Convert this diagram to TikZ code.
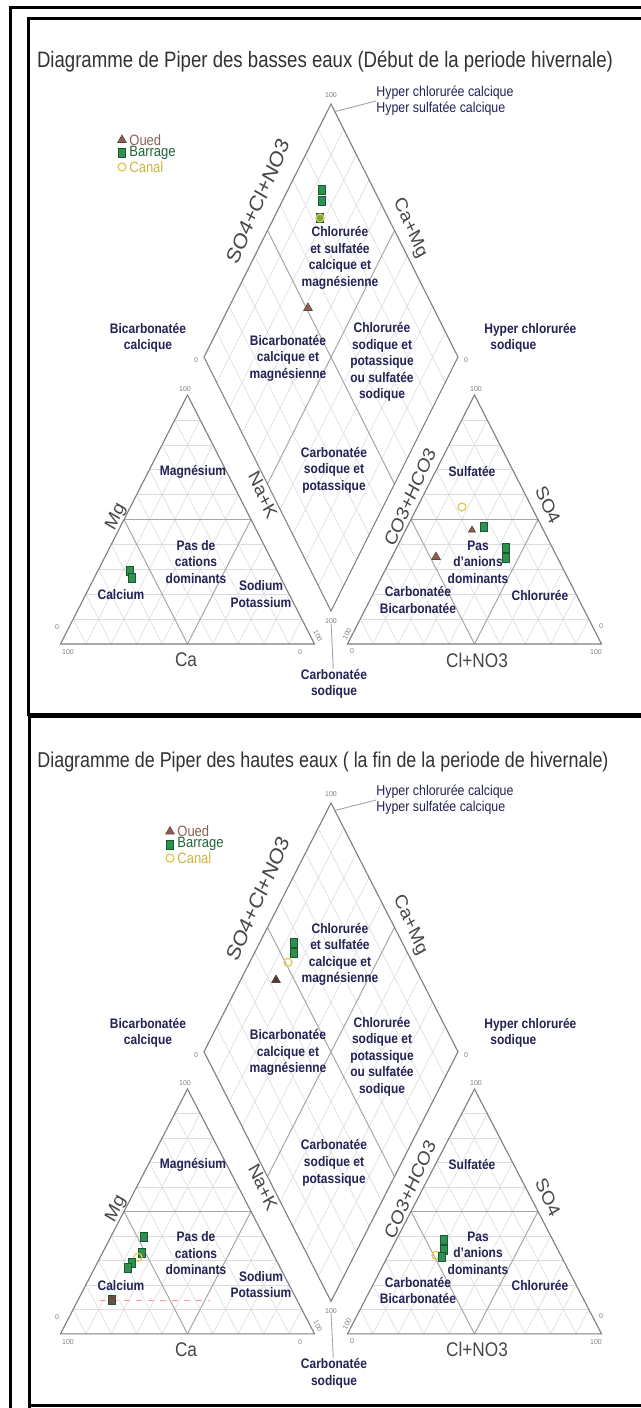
\documentclass[tikz,border=0pt]{standalone}
\usepackage{fontspec}
\setmainfont{Liberation Sans}
\usetikzlibrary{calc,shapes.geometric}

\definecolor{navy}{RGB}{35,35,85}
\definecolor{gridgray}{RGB}{220,220,224}
\definecolor{zonegray}{RGB}{165,165,170}
\definecolor{framegray}{RGB}{125,125,130}
\definecolor{axisgray}{RGB}{70,70,75}
\definecolor{titlegray}{RGB}{50,50,50}
\definecolor{ouedcol}{RGB}{140,95,85}
\definecolor{barragecol}{RGB}{45,145,80}
\definecolor{canalcol}{RGB}{225,200,70}

\tikzset{
  gridline/.style={draw=gridgray, line width=0.3pt},
  zoneline/.style={draw=zonegray, line width=0.45pt},
  frameline/.style={draw=framegray, line width=0.55pt},
  panel/.style={draw=black, line width=1.5pt},
  zone/.style={text=navy, font=\fontsize{6}{7.2}\selectfont\bfseries, inner sep=0pt, align=center, yscale=1.15},
  hyper/.style={text=navy, font=\fontsize{6.2}{7}\selectfont, inner sep=0pt, align=left, anchor=west, yscale=1.15},
  axislabel/.style={text=axisgray, font=\fontsize{8.6}{10}\selectfont, inner sep=0pt, yscale=1.15},
  ticklabel/.style={text=gray, font=\fontsize{3.5}{4}\selectfont, inner sep=0pt},
  legendtext/.style={font=\fontsize{6.5}{7.5}\selectfont, inner sep=0pt, anchor=west, yscale=1.15},
  pipertitle/.style={text=titlegray, font=\fontsize{9.3}{11}\selectfont, inner sep=0pt, yscale=1.2},
  oued/.style={regular polygon, regular polygon sides=3, fill=ouedcol, draw=ouedcol!70!black, inner sep=0pt, minimum size=5pt, line width=0.3pt},
  barrage/.style={rectangle, fill=barragecol, draw=barragecol!60!black, inner sep=0pt, minimum width=3.5pt, minimum height=4.5pt, line width=0.3pt},
  canal/.style={circle, draw=canalcol, line width=0.6pt, inner sep=0pt, minimum size=4pt}
}

% triangles, diamond, grid and zone names of one Piper diagram
\newcommand{\piperbase}{%
  \coordinate (LA) at (60.5,644);  \coordinate (LB) at (314.5,644); \coordinate (LC) at (187.5,395);
  \coordinate (RA) at (347.5,644); \coordinate (RB) at (601.5,644); \coordinate (RC) at (474.5,395);
  \coordinate (DD) at (331,611);   \coordinate (DL) at (204,357);   \coordinate (DR) at (458,357);
  \coordinate (DT) at (331,104);
  % 10 % grid
  \foreach \A/\B/\C in {LA/LB/LC,RA/RB/RC} {
    \foreach \t in {0.1,0.2,...,0.9} {
      \pgfmathsetmacro{\u}{1-\t}
      \draw[gridline] ($(\A)!\t!(\C)$) -- ($(\B)!\t!(\C)$);
      \draw[gridline] ($(\A)!\t!(\B)$) -- ($(\B)!\u!(\C)$);
      \draw[gridline] ($(\A)!\t!(\B)$) -- ($(\A)!\t!(\C)$);
    }
  }
  \foreach \t in {0.1,0.2,...,0.9} {
    \draw[gridline] ($(DD)!\t!(DL)$) -- ($(DR)!\t!(DT)$);
    \draw[gridline] ($(DD)!\t!(DR)$) -- ($(DL)!\t!(DT)$);
  }
  % zone limits
  \foreach \A/\B/\C in {LA/LB/LC,RA/RB/RC} {
    \draw[zoneline] ($(\A)!.5!(\C)$) -- ($(\B)!.5!(\C)$);
    \draw[zoneline] ($(\A)!.5!(\B)$) -- ($(\B)!.5!(\C)$);
    \draw[zoneline] ($(\A)!.5!(\B)$) -- ($(\A)!.5!(\C)$);
  }
  \draw[zoneline] ($(DD)!.5!(DL)$) -- ($(DR)!.5!(DT)$);
  \draw[zoneline] ($(DD)!.5!(DR)$) -- ($(DL)!.5!(DT)$);
  % outlines
  \draw[frameline] (LA) -- (LB) -- (LC) -- cycle;
  \draw[frameline] (RA) -- (RB) -- (RC) -- cycle;
  \draw[frameline] (DD) -- (DR) -- (DT) -- (DL) -- cycle;
  % ticks
  \node[ticklabel] (tdt) at (331,95) {100};
  \node[ticklabel] (tdl) at (196,360) {0};
  \node[ticklabel] (tdr) at (466,360) {0};
  \node[ticklabel] (tdd) at (331,621) {100};
  \node[ticklabel] (tlc) at (185,389) {100};
  \node[ticklabel] (tla) at (57,627) {0};
  \node[ticklabel] (tlb) at (68,652) {100};
  \node[ticklabel] (tlz) at (300,652) {0};
  \node[ticklabel, rotate=-63] (tlr) at (318,636) {100};
  \node[ticklabel, rotate=63] (tra) at (347,634) {100};
  \node[ticklabel] (trz) at (352,651) {0};
  \node[ticklabel] (trb) at (601,626) {0};
  \node[ticklabel] (trd) at (596,652) {100};
  \node[ticklabel] (trc) at (476,389) {100};
  % axis names
  \node[axislabel, rotate=63.3, font=\fontsize{9.6}{11}\selectfont] (axsc) at (258,201) {SO4+Cl+NO3};
  \node[axislabel, rotate=-63.3] (axcm) at (410,228) {Ca+Mg};
  \node[axislabel, rotate=63] (axmg) at (116,517) {Mg};
  \node[axislabel, rotate=-63] (axnk) at (263,495) {Na+K};
  \node[axislabel, rotate=63] (axch) at (410,497) {CO3+HCO3};
  \node[axislabel, rotate=-63] (axso) at (548,505) {SO4};
  \node[axislabel] (axca) at (186,660) {Ca};
  \node[axislabel] (axcl) at (477,660) {Cl+NO3};
  % diamond zones
  \node[hyper] (hcc) at (376,101) {Hyper chlorurée calcique\\Hyper sulfatée calcique};
  \coordinate (hccpin) at ($(DT)!0.03!(DR)$);
  \draw[zoneline] (hccpin) -- (hcc.west);
  \node[zone] (cscm) at (340,258) {Chlorurée\\et sulfatée\\calcique et\\magnésienne};
  \node[zone] (bicext) at (148,338) {Bicarbonatée\\calcique};
  \node[zone] (bicm) at (288,358) {Bicarbonatée\\calcique et\\magnésienne};
  \node[zone] (clsod) at (382,362) {Chlorurée\\sodique et\\potassique\\ou sulfatée\\sodique};
  \node[zone, align=left, anchor=west] (hcs) at (484,338) {Hyper chlorurée\\\hspace*{3pt}sodique};
  \node[zone] (carbsp) at (334,470) {Carbonatée\\sodique et\\potassique};
  \node[zone] (carbs) at (334,684) {Carbonatée\\sodique};
  \draw[zoneline] (tdd) -- (carbs);
  % cation zones
  \node[zone] (mgz) at (193,472) {Magnésium};
  \node[zone] (nodomc) at (196,562) {Pas de\\cations\\dominants};
  \node[zone] (caz) at (121,595) {Calcium};
  \node[zone] (naz) at (261,594) {Sodium\\Potassium};
  % anion zones
  \node[zone] (so4z) at (472,472) {Sulfatée};
  \node[zone] (nodoma) at (478,562) {Pas\\d'anions\\dominants};
  \node[zone] (carbz) at (418,600) {Carbonatée\\Bicarbonatée};
  \node[zone] (clz) at (540,595) {Chlorurée};
}

% legend at a given point
\newcommand{\piperlegend}[2]{%
  \node[oued] (lgo) at (#1,#2) {};
  \node[legendtext, text=ouedcol] (lgot) at (#1+7,#2) {Oued};
  \node[barrage] (lgb) at (#1,#2+13) {};
  \node[legendtext, text=barragecol!70!black] (lgbt) at (#1+7,#2+13) {Barrage};
  \node[canal] (lgc) at (#1,#2+27) {};
  \node[legendtext, text=canalcol!90!black] (lgct) at (#1+7,#2+27) {Canal};
}

\begin{document}
\begin{tikzpicture}[x=0.5pt,y=-0.5pt]
  \useasboundingbox (0,0) rectangle (641,1408);
  \fill[white] (0,0) rectangle (641,1408);

  % frames
  \draw[panel] (10.5,1408) -- (10.5,7) -- (645,7);
  \draw[panel] (28.5,715.5) -- (28.5,18.5) -- (645,18.5);
  \draw[panel] (29.5,1420) -- (29.5,715.5);
  \draw[panel] (29.5,1405.5) -- (645,1405.5);
  \draw[draw=black, line width=2.5pt] (28,715.5) -- (645,715.5);

  % low waters
  \begin{scope}
    \piperbase
    \node[pipertitle] (title1) at (325,62) {Diagramme de Piper des basses eaux (Début de la periode hivernale)};
    \piperlegend{122}{140}
    \node[barrage] (pd1) at (322,190) {};
    \node[barrage] (pd2) at (322,201) {};
    \node[barrage, fill=barragecol!60!canalcol] (pd3) at (320,218) {};
    \node[canal] (pd4) at (320,218) {};
    \node[oued] (pd5) at (308,308) {};
    \node[barrage] (pc1) at (130,571) {};
    \node[barrage] (pc2) at (132,578) {};
    \node[canal] (pa1) at (462,507) {};
    \node[barrage] (pa2) at (484,527) {};
    \node[oued, minimum size=4pt] (pa3) at (472,530) {};
    \node[barrage] (pa4) at (506,548) {};
    \node[barrage] (pa5) at (506,558) {};
    \node[oued] (pa6) at (436,557) {};
  \end{scope}

  % high waters
  \begin{scope}[yshift=-350.4pt, yscale=0.983]
    \piperbase
    \node[pipertitle, font=\fontsize{8.95}{11}\selectfont] (title2) at (323,62) {Diagramme de Piper des hautes eaux ( la fin de la periode de hivernale)};
    \piperlegend{170}{133}
    \node[barrage] (qd1) at (294,246) {};
    \node[barrage] (qd2) at (294,256) {};
    \node[canal] (qd3) at (288,266) {};
    \node[oued, fill=ouedcol!60!black] (qd4) at (276,284) {};
    \draw[draw=red!40, line width=0.5pt, dashed] (100,609.6) -- (210,609.6);
    \node[barrage] (qc1) at (144,545.5) {};
    \node[barrage] (qc2) at (142,561.8) {};
    \node[canal] (qc3) at (138,566) {};
    \node[barrage] (qc4) at (132,572) {};
    \node[barrage] (qc5) at (128,577) {};
    \node[barrage, fill=ouedcol!80!black] (qc6) at (112,609.6) {};
    \node[barrage] (qa1) at (444,548.6) {};
    \node[barrage] (qa2) at (444,558.8) {};
    \node[canal] (qa3) at (436,564) {};
    \node[barrage] (qa4) at (442,566) {};
  \end{scope}
\end{tikzpicture}
\end{document}
